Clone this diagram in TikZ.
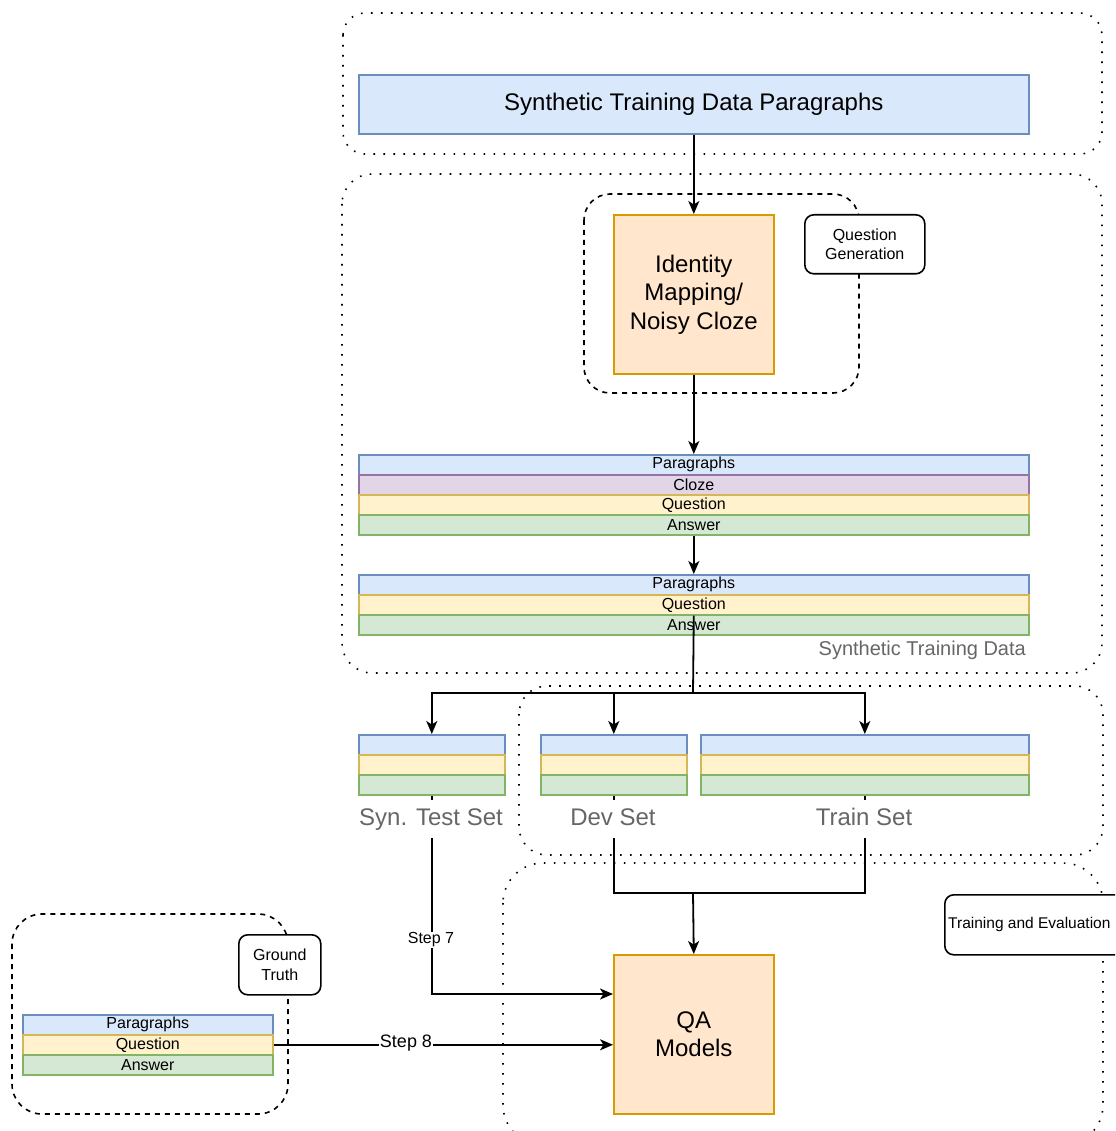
\documentclass[tikz,border=0pt]{standalone}
\usepackage{fontspec}
\setmainfont{Liberation Sans}
\usetikzlibrary{arrows.meta}

\definecolor{bluefill}{HTML}{DAE8FC}
\definecolor{blueline}{HTML}{6C8EBF}
\definecolor{purplefill}{HTML}{E1D5E7}
\definecolor{purpleline}{HTML}{9673A6}
\definecolor{yellowfill}{HTML}{FFF2CC}
\definecolor{yellowline}{HTML}{D6B656}
\definecolor{greenfill}{HTML}{D5E8D4}
\definecolor{greenline}{HTML}{82B366}
\definecolor{orangefill}{HTML}{FFE6CC}
\definecolor{orangeline}{HTML}{D79B00}
\definecolor{labelgray}{HTML}{666666}

\begin{document}
\begin{tikzpicture}[x=1pt,y=-1pt,
  fsixteen/.style={font=\fontsize{16}{19.5}\selectfont},
  feighteen/.style={font=\fontsize{18}{21.5}\selectfont},
  ftwenty/.style={font=\fontsize{20}{24}\selectfont},
  ftwentyfour/.style={font=\fontsize{24}{28.5}\selectfont},
  box/.style={draw, line width=1.6pt, inner sep=0pt, anchor=north west, align=center},
  strip/.style={box, fsixteen, minimum height=20},
  bluestrip/.style={strip, fill=bluefill, draw=blueline},
  purplestrip/.style={strip, fill=purplefill, draw=purpleline},
  yellowstrip/.style={strip, fill=yellowfill, draw=yellowline},
  greenstrip/.style={strip, fill=greenfill, draw=greenline},
  process/.style={box, ftwentyfour, fill=orangefill, draw=orangeline, minimum width=160, minimum height=159},
  tag/.style={box, fsixteen, fill=white, draw=black, rounded corners=9pt},
  setlabel/.style={ftwentyfour, text=labelgray, fill=white, inner xsep=0pt, inner ysep=8pt,
    text height=17pt, text depth=5pt},
  dotbox/.style={line width=1.6pt, dash pattern=on 1.6pt off 8.4pt},
  dashbox/.style={line width=1.6pt, dash pattern=on 5pt off 5pt},
  line/.style={line width=1.8pt},
  conn/.style={line, -{Stealth[length=13pt, width=11pt, inset=3.5pt]}},
  steplabel/.style={fill=white, inner sep=1pt}
]
\useasboundingbox (0,0) rectangle (1115,1131);
\clip (0,0) rectangle (1115,1131);

% grouping frames
\draw[dotbox, rounded corners=22pt] (343,13) rectangle (1102,154);
\draw[dotbox, rounded corners=30pt] (342,174) rectangle (1102,673);
\draw[dotbox, rounded corners=28pt] (519,686) rectangle (1103,855);
\draw[dotbox, rounded corners=40pt] (503,863) rectangle (1103,1145);
\draw[dashbox, rounded corners=26pt] (584,194) rectangle (859,393);
\draw[dashbox, rounded corners=30pt] (12,914) rectangle (288,1114);

% source paragraphs
\node[box, ftwentyfour, fill=bluefill, draw=blueline, minimum width=670, minimum height=59]
  (src) at (358,74) {Synthetic Training Data Paragraphs};

% question generation
\node[process] (ident) at (613,214) {Identity\\Mapping/\\Noisy Cloze};
\node[tag, minimum width=120, minimum height=59] (qgen) at (804,214) {Question\\Generation};

% generated data with cloze
\node[bluestrip, minimum width=670] (c1) at (358,454) {Paragraphs};
\node[purplestrip, minimum width=670] (c2) at (358,474) {Cloze};
\node[yellowstrip, minimum width=670] (c3) at (358,494) {Question};
\node[greenstrip, minimum width=670] (c4) at (358,514) {Answer};

% final synthetic training data
\node[bluestrip, minimum width=670] (d1) at (358,574) {Paragraphs};
\node[yellowstrip, minimum width=670] (d2) at (358,594) {Question};
\node[greenstrip, minimum width=670] (d3) at (358,614) {Answer};
\node[ftwenty, text=labelgray, anchor=east, inner sep=0pt] (stdlabel) at (1026,650) {Synthetic Training Data};

% splits
\node[bluestrip, minimum width=146] (t1) at (358,734) {};
\node[yellowstrip, minimum width=146] (t2) at (358,754) {};
\node[greenstrip, minimum width=146] (t3) at (358,774) {};
\node[bluestrip, minimum width=146] (v1) at (540,734) {};
\node[yellowstrip, minimum width=146] (v2) at (540,754) {};
\node[greenstrip, minimum width=146] (v3) at (540,774) {};
\node[bluestrip, minimum width=328] (r1) at (700,734) {};
\node[yellowstrip, minimum width=328] (r2) at (700,754) {};
\node[greenstrip, minimum width=328] (r3) at (700,774) {};

% models
\node[process] (qa) at (613,954) {QA\\Models};
\node[box, fill=white, draw=black, rounded corners=9pt, minimum width=181, minimum height=60]
  (train) at (944,894) {};
\node[font=\fontsize{15.5}{18}\selectfont, anchor=west, inner sep=0pt]
  (traintext) at (948,924) {Training and Evaluation};

% ground truth
\node[bluestrip, minimum width=250] (g1) at (22,1014) {Paragraphs};
\node[yellowstrip, minimum width=250] (g2) at (22,1034) {Question};
\node[greenstrip, minimum width=250] (g3) at (22,1054) {Answer};
\node[tag, minimum width=82, minimum height=60] (gt) at (238,934) {Ground\\Truth};

% connectors
\coordinate (split) at (693,693);
\coordinate (merge) at (693,893);
\draw[conn] (src.south) -- (ident.north);
\draw[conn] (ident.south) -- (c1.north);
\draw[conn] (c4.south) -- (d1.north);
\draw[line] (d2.south) -- (split);
\draw[conn] (split) -| (t1.north);
\draw[conn] (split) -| (v1.north);
\draw[conn] (split) -| (r1.north);
\draw[conn] (t3.south) |- ([yshift=-40pt]qa.north west);
\draw[line] (v3.south) |- (merge -| r3.south) -- (r3.south);
\draw[conn] (merge) -- (qa.north);
\draw[conn] (g2.east) -- (g2.east -| qa.west);

% labels over the connectors
\node[setlabel] (tlabel) at (431,819) {Syn. Test Set};
\node[setlabel] (vlabel) at (613,819) {Dev Set};
\node[setlabel] (rlabel) at (864,819) {Train Set};
\node[steplabel, fsixteen] (s7) at (431,940) {Step 7};
\node[steplabel, feighteen] (s8) at (406,1043) {Step 8};
\end{tikzpicture}
\end{document}
